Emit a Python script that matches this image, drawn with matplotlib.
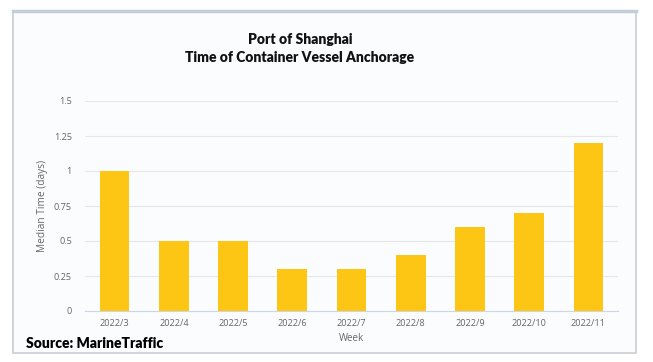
import matplotlib
matplotlib.use("Agg")
import matplotlib.pyplot as plt
from matplotlib.patches import Rectangle

weeks = ["2022/3", "2022/4", "2022/5", "2022/6", "2022/7", "2022/8", "2022/9", "2022/10", "2022/11"]
median_days = [1.0, 0.5, 0.5, 0.3, 0.3, 0.4, 0.6, 0.7, 1.2]
yticks = [0, 0.25, 0.5, 0.75, 1, 1.25, 1.5]
ytick_labels = ["0", "0.25", "0.5", "0.75", "1", "1.25", "1.5"]

W, H = 653, 362
fig = plt.figure(figsize=(W / 100, H / 100), dpi=100)
fig.patch.set_facecolor("white")

# card background + border
card = Rectangle((13 / W, 1 - 353 / H), (636 - 13) / W, (353 - 11) / H,
                 transform=fig.transFigure, facecolor="#fbfcfd",
                 edgecolor="#c9ced4", linewidth=1.2, zorder=-5)
fig.add_artist(card)
fig.add_artist(plt.Line2D([13 / W, 636 / W], [1 - 11 / H, 1 - 11 / H],
                          transform=fig.transFigure, color="#c5ced8", lw=2.5, zorder=-4))

ax = fig.add_axes([85 / W, 1 - 311 / H, (618 - 85) / W, (311 - 101) / H])
ax.set_facecolor("none")

x = range(len(weeks))
ax.bar(x, median_days, width=0.5, color="#fdc514", zorder=3)

ax.set_xlim(-0.5, len(weeks) - 0.5)
ax.set_ylim(0, 1.5)
ax.set_yticks(yticks)
ax.set_yticklabels(ytick_labels)
ax.set_xticks(list(x))
ax.set_xticklabels(weeks)
ax.grid(axis="y", color="#e6e6e6", lw=0.8, zorder=0)
for s in ["top", "right", "left"]:
    ax.spines[s].set_visible(False)
ax.spines["bottom"].set_color("#ccd6eb")
ax.tick_params(axis="both", length=0, colors="#666666", labelsize=6.6)
ax.tick_params(axis="x", pad=6)
ax.tick_params(axis="y", pad=9.5)
for lab in ax.get_xticklabels() + ax.get_yticklabels():
    lab.set_fontfamily("Open Sans")

ax.set_xlabel("Week", color="#666666", fontsize=7, family="Open Sans", labelpad=3.5)
ax.set_ylabel("Median Time (days)", color="#666666", fontsize=7.3, family="Open Sans", labelpad=4)

fig.text(300 / W, 1 - 40 / H, "Port of Shanghai", ha="center", va="center",
         fontsize=10, fontweight="heavy", family="Lato", color="#111111")
fig.text(300 / W, 1 - 58 / H, "Time of Container Vessel Anchorage", ha="center", va="center",
         fontsize=10, fontweight="heavy", family="Lato", color="#111111")
fig.text(26 / W, 1 - 344 / H, "Source: MarineTraffic", ha="left", va="center",
         fontsize=10, fontweight="heavy", family="Lato", color="#000000")

fig.savefig("out.png", dpi=100)
